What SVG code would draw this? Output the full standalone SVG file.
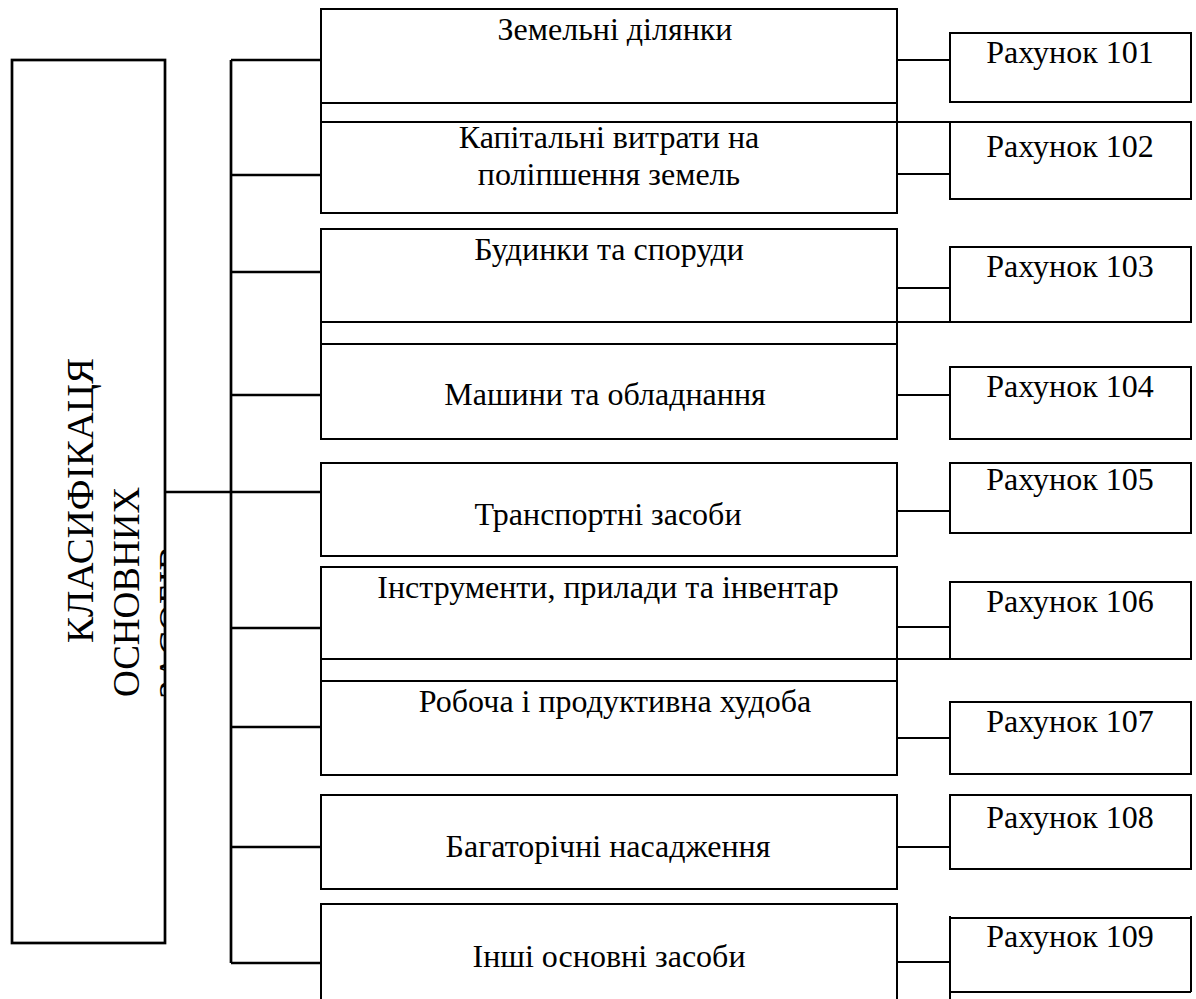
<svg xmlns="http://www.w3.org/2000/svg" width="1196" height="999" viewBox="0 0 1196 999">
<style>
  .box { fill: #fff; stroke: #000; stroke-width: 2; }
  .edge { fill: none; stroke: #000; stroke-width: 2; }
  .bus { fill: none; stroke: #000; stroke-width: 2.7; }
  .lbl { font-family: "Liberation Serif", "Times New Roman", serif; font-size: 32px; fill: #000; text-anchor: middle; }
  .vlbl { font-family: "Liberation Serif", "Times New Roman", serif; font-size: 37px; fill: #000; }
</style>
<defs>
  <clipPath id="leftclip"><rect x="12" y="60" width="152" height="883"/></clipPath>
</defs>
<rect width="1196" height="999" fill="#fff"/>

<g id="connectors">
  <path class="bus" d="M231,60 V963"/>
  <path class="bus" d="M231,60 H321 M231,175 H321 M231,272 H321 M231,395 H321 M165,492 H321 M231,628 H321 M231,727 H321 M231,847 H321 M231,963 H321"/>
  <path class="edge" d="M897,60 H950 M897,174 H950 M897,288 H950 M897,395 H950 M897,511 H950 M897,627 H950 M897,738 H950 M897,847 H950 M897,962 H950"/>
  <path class="edge" d="M321,103 V122 M897,103 V122 M897,122 H950"/>
  <path class="edge" d="M321,322 V344 M897,322 V344 M897,322 H950"/>
  <path class="edge" d="M321,659 V681 M897,659 V681 M897,659 H950"/>
</g>

<g id="root">
  <rect x="12" y="60" width="153" height="883" fill="#fff" stroke="#000" stroke-width="2.7"/>
  <g clip-path="url(#leftclip)">
    <text class="vlbl" transform="translate(93,643) rotate(-90)" textLength="285" lengthAdjust="spacingAndGlyphs">КЛАСИФІКАЦЯ</text>
    <text class="vlbl" transform="translate(139,697) rotate(-90)">ОСНОВНИХ</text>
    <text class="vlbl" transform="translate(185,699) rotate(-90)">ЗАСОБІВ</text>
  </g>
</g>

<g id="n1"><rect class="box" x="321" y="9" width="576" height="94"/><text class="lbl" x="615" y="40">Земельні ділянки</text></g>
<g id="n2"><rect class="box" x="321" y="122" width="576" height="91"/><text class="lbl" x="609" y="148">Капітальні витрати на</text><text class="lbl" x="609" y="185">поліпшення земель</text></g>
<g id="n3"><rect class="box" x="321" y="229" width="576" height="93"/><text class="lbl" x="609" y="260">Будинки та споруди</text></g>
<g id="n4"><rect class="box" x="321" y="344" width="576" height="95"/><text class="lbl" x="605" y="405">Машини та обладнання</text></g>
<g id="n5"><rect class="box" x="321" y="463" width="576" height="93"/><text class="lbl" x="608" y="525">Транспортні засоби</text></g>
<g id="n6"><rect class="box" x="321" y="567" width="576" height="92"/><text class="lbl" x="608" y="598">Інструменти, прилади та інвентар</text></g>
<g id="n7"><rect class="box" x="321" y="681" width="576" height="94"/><text class="lbl" x="615" y="712">Робоча і продуктивна худоба</text></g>
<g id="n8"><rect class="box" x="321" y="795" width="576" height="94"/><text class="lbl" x="608" y="857">Багаторічні насадження</text></g>
<g id="n9"><path class="edge" d="M321,1000 V904 H897 V1000"/><text class="lbl" x="609" y="967">Інші основні засоби</text></g>

<g id="a101"><rect class="box" x="950" y="33" width="241" height="69"/><text class="lbl" x="1070" y="63">Рахунок 101</text></g>
<g id="a102"><rect class="box" x="950" y="122" width="241" height="77"/><text class="lbl" x="1070" y="157">Рахунок 102</text></g>
<g id="a103"><rect class="box" x="950" y="247" width="241" height="75"/><text class="lbl" x="1070" y="277">Рахунок 103</text></g>
<g id="a104"><rect class="box" x="950" y="367" width="241" height="72"/><text class="lbl" x="1070" y="397">Рахунок 104</text></g>
<g id="a105"><rect class="box" x="950" y="463" width="241" height="70"/><text class="lbl" x="1070" y="490">Рахунок 105</text></g>
<g id="a106"><rect class="box" x="950" y="582" width="241" height="77"/><text class="lbl" x="1070" y="612">Рахунок 106</text></g>
<g id="a107"><rect class="box" x="950" y="702" width="241" height="72"/><text class="lbl" x="1070" y="732">Рахунок 107</text></g>
<g id="a108"><rect class="box" x="950" y="795" width="241" height="74"/><text class="lbl" x="1070" y="828">Рахунок 108</text></g>
<g id="a109"><path class="edge" d="M950,916 V1000 M950,918 H1191 M1191,916 V992 M950,992 H1191"/><text class="lbl" x="1070" y="947">Рахунок 109</text></g>
</svg>
